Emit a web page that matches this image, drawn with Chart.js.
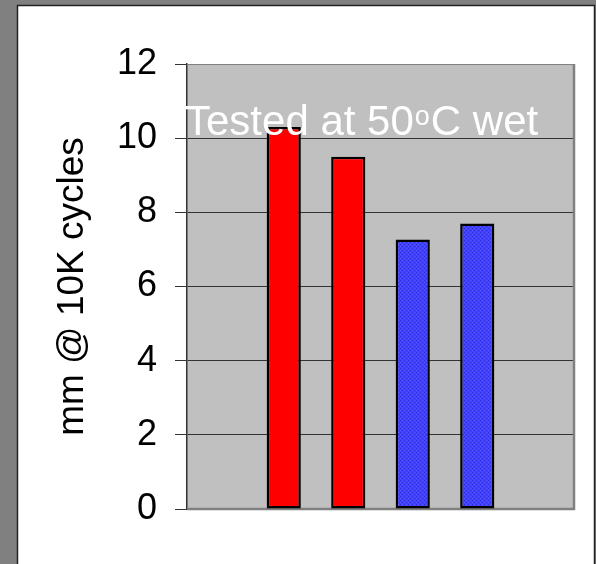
<!DOCTYPE html>
<html>
<head>
<meta charset="utf-8">
<script src="https://cdn.jsdelivr.net/npm/chart.js@4.4.1/dist/chart.umd.min.js"></script>
<style>
  html, body { margin: 0; padding: 0; background: #808080; }
  #wrap { width: 596px; height: 564px; }
</style>
</head>
<body>
<div id="wrap"><canvas id="mainChart" width="596" height="564"></canvas></div>
<script>
// wear depth chart, four samples tested at 50C wet
// outer slots stay empty so the bars sit in the middle like the original
const slots = ['', 'A', 'B', 'C', 'D', ''];
const wearDepth = [null, 10.3, 9.5, 7.27, 7.7, null];
const barKinds = [null, 'red', 'red', 'blue', 'blue', null];
const yTickValues = [0, 2, 4, 6, 8, 10, 12];
const yTitle = 'mm @ 10K cycles';
const noteParts = ['Tested at 50', 'o', 'C wet'];

const FONT = '"Liberation Sans", Arial, sans-serif';
Chart.defaults.font.family = FONT;

const canvas = document.getElementById('mainChart');
const mainCtx = canvas.getContext('2d');

function dotPattern() {
  const c = document.createElement('canvas');
  c.width = 4; c.height = 4;
  const g = c.getContext('2d');
  g.fillStyle = '#4040ff'; g.fillRect(0, 0, 4, 4);
  g.fillStyle = '#2c2ce0'; g.fillRect(0, 0, 1, 1); g.fillRect(2, 2, 1, 1);
  g.fillStyle = '#5858ff'; g.fillRect(2, 0, 1, 1); g.fillRect(0, 2, 1, 1);
  return mainCtx.createPattern(c, 'repeat');
}

const bluePattern = dotPattern();
const barFills = barKinds.map(k => k === 'blue' ? bluePattern : '#ff0000');

// gray page, white slide panel and the gray plot box
const framePlugin = {
  id: 'frame',
  beforeDraw(chart) {
    const { ctx, chartArea: a } = chart;
    ctx.save();
    ctx.fillStyle = '#808080';
    ctx.fillRect(0, 0, chart.width, chart.height);
    ctx.fillStyle = '#ffffff';
    ctx.fillRect(17, 5, 578, chart.height - 5);
    ctx.strokeStyle = '#222';
    ctx.lineWidth = 1.5;
    ctx.beginPath();
    ctx.moveTo(17.5, chart.height);
    ctx.lineTo(17.5, 5.5);
    ctx.lineTo(594.5, 5.5);
    ctx.lineTo(594.5, chart.height);
    ctx.stroke();
    ctx.fillStyle = '#c0c0c0';
    ctx.fillRect(a.left, a.top, a.width, a.height);
    ctx.restore();
  },
  beforeDatasetsDraw(chart) {
    const { ctx, chartArea: a } = chart;
    ctx.save();
    ctx.strokeStyle = '#808080';
    ctx.lineWidth = 1;
    ctx.beginPath();
    ctx.moveTo(a.left, a.top + 0.5);
    ctx.lineTo(a.right, a.top + 0.5);
    ctx.stroke();
    ctx.lineWidth = 2.5;
    ctx.beginPath();
    ctx.moveTo(a.right, a.top);
    ctx.lineTo(a.right, a.bottom);
    ctx.lineTo(a.left, a.bottom);
    ctx.stroke();
    ctx.restore();
  },
  afterDatasetsDraw(chart) {
    const ctx = chart.ctx;
    ctx.save();
    ctx.fillStyle = '#ffffff';
    ctx.textBaseline = 'alphabetic';
    let x = 185;
    ctx.font = '42px ' + FONT;
    ctx.fillText(noteParts[0], x, 135);
    x += ctx.measureText(noteParts[0]).width + 1;
    ctx.font = '27px ' + FONT;
    ctx.fillText(noteParts[1], x, 125);
    x += ctx.measureText(noteParts[1]).width + 1;
    ctx.font = '42px ' + FONT;
    ctx.fillText(noteParts[2], x, 135);
    ctx.restore();
  }
};

new Chart(mainCtx, {
  type: 'bar',
  data: {
    labels: slots,
    datasets: [{
      data: wearDepth,
      backgroundColor: barFills,
      borderColor: '#000',
      borderWidth: 2.5,
      borderSkipped: false,
      categoryPercentage: 1,
      barPercentage: 0.53
    }]
  },
  options: {
    responsive: false,
    animation: false,
    layout: { padding: { left: 51, right: 22, top: 64, bottom: 55 } },
    plugins: {
      legend: { display: false },
      tooltip: { enabled: false }
    },
    scales: {
      x: { display: false },
      y: {
        min: 0,
        max: 12,
        afterBuildTicks(scale) {
          scale.ticks = yTickValues.map(v => ({ value: v }));
        },
        afterFit(scale) { scale.width = 136; },
        grid: {
          color: c => (c.tick && (c.tick.value === 0 || c.tick.value === 12)) ? 'rgba(0,0,0,0)' : '#333',
          tickColor: '#333',
          tickLength: 12,
          lineWidth: 1
        },
        border: { color: '#333', width: 1.5 },
        ticks: { color: '#000', padding: 18, font: { size: 36 } },
        title: {
          display: true,
          text: yTitle,
          color: '#000',
          font: { size: 37 },
          padding: 0
        }
      }
    }
  },
  plugins: [framePlugin]
});
</script>
</body>
</html>
